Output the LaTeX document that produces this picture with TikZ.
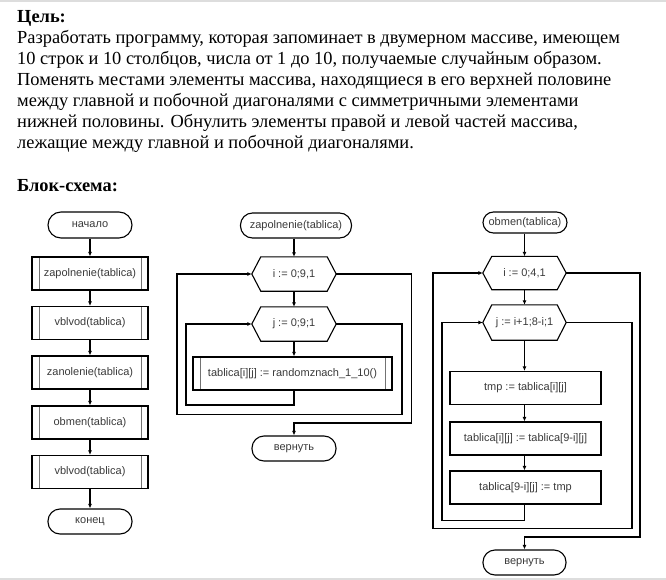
\documentclass[tikz,border=0pt]{standalone}
\usepackage{fontspec}
\setmainfont{Liberation Serif}
\newfontfamily\chartfont{Liberation Sans}
\usetikzlibrary{arrows.meta}
\definecolor{ctext}{HTML}{3A3A3A}
\definecolor{rule}{HTML}{DDDDDD}
\newcommand\hexout[1]{\draw[line] (#1.west) -- ([xshift=9pt]#1.north west) -- ([xshift=-9pt]#1.north east) -- (#1.east) -- ([xshift=-9pt]#1.south east) -- ([xshift=9pt]#1.south west) -- cycle;}
\begin{document}
\begin{tikzpicture}[x=1pt,y=-1pt,
  line/.style={draw=black, line width=1.1pt},
  arr/.style={line, -{Latex[length=4.5pt,width=4pt]}},
  ctxt/.style={font=\chartfont\fontsize{11}{13}\selectfont, text=ctext},
  term/.style={line, ctxt, rounded corners=12pt, minimum width=84pt, minimum height=25pt, inner sep=0pt},
  proc/.style={line, ctxt, rectangle, minimum width=151pt, minimum height=33pt, inner sep=0pt},
  sub/.style={proc, minimum width=116pt,
    path picture={\draw[black!55, line width=0.8pt]
      ([xshift=7pt]path picture bounding box.north west) -- ([xshift=7pt]path picture bounding box.south west)
      ([xshift=-7pt]path picture bounding box.north east) -- ([xshift=-7pt]path picture bounding box.south east);}},
  hexa/.style={ctxt, minimum width=84pt, minimum height=34pt, inner sep=0pt},
  body/.style={anchor=base west, inner sep=0pt, font=\fontsize{18.4}{21}\selectfont}
]
\useasboundingbox (0,0) rectangle (666,580);
\draw[rule, line width=2pt] (0,1) -- (666,1);
\draw[rule, line width=2pt] (0,579) -- (666,579);

% text
\node[body] (t1) at (17,23) {\textbf{Цель:}};
\node[body] (t2) at (17,44) {Разработать программу, которая запоминает в двумерном массиве, имеющем};
\node[body] (t3) at (17,65) {10 строк и 10 столбцов, числа от 1 до 10, получаемые случайным образом.};
\node[body] (t4) at (17,86) {Поменять местами элементы массива, находящиеся в его верхней половине};
\node[body] (t5) at (17,107) {между главной и побочной диагоналями с симметричными элементами};
\node[body] (t6) at (17,128) {нижней половины. Обнулить элементы правой и левой частей массива,};
\node[body] (t7) at (17,149) {лежащие между главной и побочной диагоналями.};
\node[body] (t8) at (17,192) {\textbf{Блок-схема:}};

% left chart
\node[term, minimum height=26pt, rounded corners=13pt] (a0) at (90,225) {начало};
\node[sub] (a1) at (90,273.5) {zapolnenie(tablica)};
\node[sub] (a2) at (90,323) {vblvod(tablica)};
\node[sub] (a3) at (90,372.5) {zanolenie(tablica)};
\node[sub] (a4) at (90,422.5) {obmen(tablica)};
\node[sub] (a5) at (90,472) {vblvod(tablica)};
\node[term] (a6) at (90,521.5) {конец};
\draw[arr] (a0) -- (a1);
\draw[arr] (a1) -- (a2);
\draw[arr] (a2) -- (a3);
\draw[arr] (a3) -- (a4);
\draw[arr] (a4) -- (a5);
\draw[arr] (a5) -- (a6);

% middle chart
\node[term, minimum width=111pt] (b0) at (296,225.5) {zapolnenie(tablica)};
\node[hexa] (b1) at (294,274) {i := 0;9,1};
\node[hexa] (b2) at (294,324) {j := 0;9;1};
\node[sub, minimum width=199pt] (b3) at (292.5,373.5) {tablica[i][j] := randomznach\_1\_10()};
\node[term] (b4) at (294,448.5) {вернуть};
\hexout{b1}
\hexout{b2}
\draw[arr] (b1.north |- b0.south) -- (b1.north);
\draw[arr] (b1.south) -- (b2.north);
\draw[arr] (b2.south) -- (b2.south |- b3.north);
\draw[arr] (b2.south |- b3.south) -- (294,405) -- (186,405) |- (b2.west);
\draw[arr] (b2.east) -- (402,324) -- (402,414.5) -- (177,414.5) |- (b1.west);
\draw[arr] (b1.east) -- (411.5,274) -- (411.5,423) -- (294,423) -- (b4.north);

% right chart
\node[term, minimum height=21pt, rounded corners=10.5pt] (c0) at (525,222.5) {obmen(tablica)};
\node[hexa, minimum width=83pt, minimum height=33pt] (c1) at (524.5,273) {i := 0;4,1};
\node[hexa, minimum width=83pt, minimum height=35pt] (c2) at (524.5,322.5) {j := i+1;8-i;1};
\node[proc] (c3) at (525.5,388) {tmp := tablica[i][j]};
\node[proc] (c4) at (525.5,438.5) {tablica[i][j] := tablica[9-i][j]};
\node[proc] (c5) at (525.5,487.5) {tablica[9-i][j] := tmp};
\node[term, minimum width=83pt] (c6) at (524.5,562.5) {вернуть};
\hexout{c1}
\hexout{c2}
\draw[arr] (c1.north |- c0.south) -- (c1.north);
\draw[arr] (c1.south) -- (c2.north);
\draw[arr] (c2.south) -- (c2.south |- c3.north);
\draw[arr] (c2.south |- c3.south) -- (c2.south |- c4.north);
\draw[arr] (c2.south |- c4.south) -- (c2.south |- c5.north);
\draw[arr] (c2.south |- c5.south) -- (524.5,520.5) -- (442,520.5) |- (c2.west);
\draw[arr] (c2.east) -- (632,322.5) -- (632,528.5) -- (433,528.5) |- (c1.west);
\draw[arr] (c1.east) -- (640,273) -- (640,537) -- (524.5,537) -- (c6.north);
\end{tikzpicture}
\end{document}
